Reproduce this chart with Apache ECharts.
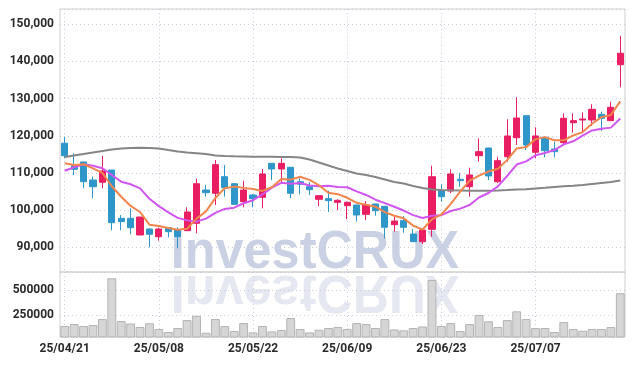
<!DOCTYPE html>
<html><head><meta charset="utf-8">
<script src="https://cdn.jsdelivr.net/npm/echarts@6/dist/echarts.min.js"></script>
<style>html,body{margin:0;padding:0;background:#fff}#c{width:634px;height:366px}</style>
</head><body><div id="c"></div>
<script>
const dates = ['25/04/21','25/04/22','25/04/23','25/04/24','25/04/25','25/04/28','25/04/29','25/04/30','25/05/02','25/05/07',
'25/05/08','25/05/09','25/05/12','25/05/13','25/05/14','25/05/15','25/05/16','25/05/19','25/05/20','25/05/21',
'25/05/22','25/05/23','25/05/26','25/05/27','25/05/28','25/05/29','25/05/30','25/06/02','25/06/04','25/06/05',
'25/06/09','25/06/10','25/06/11','25/06/12','25/06/13','25/06/16','25/06/17','25/06/18','25/06/19','25/06/20',
'25/06/23','25/06/24','25/06/25','25/06/26','25/06/27','25/06/30','25/07/01','25/07/02','25/07/03','25/07/04',
'25/07/07','25/07/08','25/07/09','25/07/10','25/07/11','25/07/14','25/07/15','25/07/16','25/07/17','25/07/18'];
const openP = [118000,111950,112950,108100,107490,110790,97800,97800,93310,94920,
92850,95270,94650,94470,96460,105410,104530,108990,107110,102270,
104070,103450,112600,111060,111520,107650,106300,102910,103070,102100,
101190,101380,98880,101650,101030,96080,97160,93580,91510,94840,
105140,105140,108290,106300,114640,116710,107650,114370,119480,125400,
115560,119590,116440,118140,123520,124240,124240,125780,124060,139120];
const closeP = [114640,110980,107650,106300,110520,96620,96890,95270,98150,93500,
94920,94200,92850,99500,107110,104690,112220,106030,101570,105410,
103070,109720,111060,112600,104530,106950,105490,103880,102540,102640,
102100,98690,101380,99850,95380,97070,95380,91510,94650,108990,
103610,109720,107920,109450,115720,109180,113300,119940,124780,117520,
119940,115990,115720,124700,124060,124510,127120,124700,127660,142190];
const lowP = [113940,109450,105870,103180,105870,94570,94570,93500,93310,90000,
91780,92690,89730,94470,93770,103610,101380,103610,101380,100760,
100760,100490,108100,107220,103180,104260,104070,101110,99500,100030,
97610,96890,97340,98500,92420,94200,93930,91500,90890,92850,
102270,104530,106300,103610,113030,108100,107220,113030,117520,116170,
113940,114210,114210,117520,120830,120670,122630,121280,124000,133040];
const highP = [119670,115290,113000,108990,114640,110800,98690,100490,98150,95000,
95300,95300,95380,100760,108450,106840,113480,112140,107300,107920,
104300,111060,112600,113940,111520,108560,107490,104000,105230,102910,
102300,101400,102450,101700,101100,98230,98420,94920,94700,111950,
106950,110980,109910,111410,119320,116800,114370,124430,130350,125500,
122280,119600,118410,126040,126040,126310,128470,126480,129170,146840];
const volume = [140000,160000,140000,150000,210000,620000,190000,166000,130000,168000,
110000,80000,120000,200000,243000,73000,210000,140000,90000,170000,
76000,140000,86000,100000,220000,110000,76000,103000,120000,130000,
110000,170000,160000,120000,210000,106000,97000,120000,136000,603000,
140000,170000,90000,160000,250000,188000,130000,200000,288000,210000,
120000,120000,80000,180000,110000,93000,110000,110000,130000,470000];
// moving-average values at the start of the window (earlier history not shown)
const ma5Lead = [112600,112140,112330,111250];
const ma10Lead = [110600,111520,112330,111950,111250,109450,107650,106950,105870];
// long moving average
const maLong = [114290,114690,115100,115500,115900,116310,116580,116710,116770,116710,
116580,116170,115770,115500,115310,115100,114690,114560,114480,114430,
114370,114340,114340,114290,114290,114160,113620,112810,112000,111200,
110520,109850,109450,108910,108240,107570,107160,106490,105950,105550,
105410,105330,105280,105230,105230,105200,105280,105410,105550,105600,
105820,106010,106220,106410,106570,106760,107030,107300,107570,107970];
const volTicks = [250000,500000];

function movingAvg(arr, n, lead) {
  return arr.map((v, i) => {
    if (i < lead.length) return lead[i];
    let s = 0; for (let k = i - n + 1; k <= i; k++) s += arr[k];
    return Math.round(s / n);
  });
}
const ma5 = movingAvg(closeP, 5, ma5Lead);
const ma10 = movingAvg(closeP, 10, ma10Lead);
const candles = dates.map((d, i) => [openP[i], closeP[i], lowP[i], highP[i]]);

function fmt(v) { return String(v).replace(/\B(?=(\d{3})+(?!\d))/g, ','); }

const labelFont = {color: '#2a2a2a', fontSize: 12, fontWeight: 'bold', fontFamily: 'Roboto, sans-serif'};
const gridLine = {show: true, lineStyle: {color: '#c9cadb', type: [1, 3], width: 1}};

const chart = echarts.init(document.getElementById('c'), null, {renderer: 'canvas'});
chart.setOption({
  animation: false,
  backgroundColor: '#ffffff',
  grid: [
    {left: 60, right: 9, top: 9, height: 263, show: true, borderColor: '#cfcfcf', borderWidth: 1,
     backgroundColor: 'transparent', containLabel: false, outerBoundsMode: 'none'},
    {left: 60, right: 9, top: 272, height: 65, show: true, borderColor: '#cfcfcf', borderWidth: 1,
     backgroundColor: 'transparent', containLabel: false, outerBoundsMode: 'none'}
  ],
  xAxis: [
    {type: 'category', gridIndex: 0, data: dates, boundaryGap: true,
     axisLine: {show: false}, axisTick: {show: false}, axisLabel: {show: false},
     splitLine: Object.assign({interval: 9, alignWithLabel: true}, gridLine)},
    {type: 'category', gridIndex: 1, data: dates, boundaryGap: true,
     axisLine: {show: false}, axisTick: {show: false, interval: 9, alignWithLabel: true},
     axisLabel: Object.assign({interval: 9, margin: 6}, labelFont),
     splitLine: Object.assign({interval: 9, alignWithLabel: true}, gridLine)}
  ],
  yAxis: [
    {type: 'value', gridIndex: 0, min: 83356, max: 154100, scale: true,
     axisLine: {show: false}, axisTick: {show: false},
     axisLabel: Object.assign({margin: 6, formatter: v => (v % 10000 === 0 ? fmt(v) : '')}, labelFont),
     splitLine: gridLine},
    {type: 'value', gridIndex: 1, min: 30000, max: 683000,
     axisLine: {show: false}, axisTick: {show: false, customValues: volTicks},
     axisLabel: Object.assign({margin: 6, customValues: volTicks, formatter: v => String(v)}, labelFont),
     splitLine: gridLine}
  ],
  graphic: [
    {type: 'text', x: 315, y: 253, scaleX: 0.9, scaleY: 0.95, z: -10, silent: true,
     style: {text: 'InvestCRUX', font: 'bold 56px "Liberation Sans", Arial, sans-serif', fill: '#cbd1e4', align: 'center', verticalAlign: 'middle'}},
    {type: 'text', x: 315, y: 291, scaleX: 0.9, scaleY: -0.95, z: -10, silent: true,
     style: {text: 'InvestCRUX', font: 'bold 56px "Liberation Sans", Arial, sans-serif', fill: '#e5e8f1', align: 'center', verticalAlign: 'middle'}}
  ],
  series: [
    {type: 'candlestick', xAxisIndex: 0, yAxisIndex: 0, data: candles, barWidth: '70%',
     itemStyle: {color: '#e91e63', color0: '#2e96c9', borderColor: '#e91e63', borderColor0: '#2e96c9', borderWidth: 1}},
    {type: 'line', xAxisIndex: 0, yAxisIndex: 0, data: maLong, showSymbol: false, smooth: false,
     lineStyle: {color: '#858585', width: 2}},
    {type: 'line', xAxisIndex: 0, yAxisIndex: 0, data: ma10, showSymbol: false,
     lineStyle: {color: '#d056f0', width: 2}},
    {type: 'line', xAxisIndex: 0, yAxisIndex: 0, data: ma5, showSymbol: false,
     lineStyle: {color: '#f0864c', width: 2}},
    {type: 'bar', xAxisIndex: 1, yAxisIndex: 1, data: volume, barCategoryGap: '6%',
     itemStyle: {color: '#d6d6d6', borderColor: '#b3b3b3', borderWidth: 1}}
  ]
});
</script></body></html>
